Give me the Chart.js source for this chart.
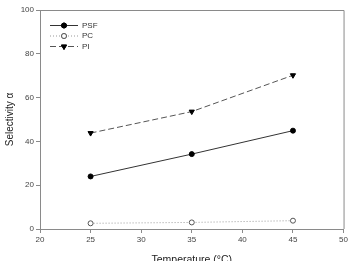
<!DOCTYPE html>
<html>
<head>
<meta charset="utf-8">
<script src="https://cdn.jsdelivr.net/npm/chart.js@4.4.0/dist/chart.umd.min.js"></script>
<style>
    html, body { margin: 0; padding: 0; background: #fff; }
    #wrap { width: 350px; height: 261px; }
</style>
</head>
<body>
<div id="wrap"><canvas id="chart"></canvas></div>
<script>
// temperatures (°C)
const temps = [25, 35, 45];
const psf = [24, 34.2, 44.9];
const pc = [2.6, 3.0, 3.8];
const pi = [43.8, 53.6, 70.2];
const xTicks = [20, 25, 30, 35, 40, 45, 50];
const yTicks = [0, 20, 40, 60, 80, 100];

function pts(vals) {
    let out = [];
    for (let i = 0; i < temps.length; i++) {
        out.push({ x: temps[i], y: vals[i] });
    }
    return out;
}

// box around the plot + little legend in the top left corner
const framePlugin = {
    id: 'frame',
    afterDraw(chart) {
        const ctx = chart.ctx;
        const a = chart.chartArea;
        ctx.save();
        ctx.strokeStyle = '#8a8a8a';
        ctx.lineWidth = 1;
        ctx.beginPath();
        ctx.moveTo(a.left, a.top + 0.5);
        ctx.lineTo(a.right + 0.5, a.top + 0.5);
        ctx.lineTo(a.right + 0.5, a.bottom);
        ctx.stroke();

        ctx.font = '8px "Liberation Sans", Arial, sans-serif';
        ctx.textBaseline = 'middle';
        chart.data.datasets.forEach(function (ds, i) {
            let y = a.top + 15 + i * 10.5;
            let x0 = a.left + 10, x1 = a.left + 38;
            ctx.strokeStyle = ds.borderColor;
            ctx.lineWidth = ds.borderWidth;
            ctx.setLineDash(ds.borderDash || []);
            ctx.beginPath();
            ctx.moveTo(x0, y + 0.5);
            ctx.lineTo(x1, y + 0.5);
            ctx.stroke();
            ctx.setLineDash([]);
            Chart.helpers.drawPoint(ctx, {
                pointStyle: ds.pointStyle,
                rotation: ds.pointRotation || 0,
                radius: ds.pointRadius,
                borderWidth: 1
            }, (x0 + x1) / 2, y + 0.5);
            ctx.fillStyle = ds.pointBackgroundColor;
            ctx.strokeStyle = ds.pointBorderColor;
            ctx.fill();
            ctx.stroke();
            ctx.fillStyle = '#333';
            ctx.fillText(ds.label, x1 + 4, y + 0.5);
        });
        ctx.restore();
    }
};

const config = {
    type: 'line',
    data: {
        datasets: [{
            label: 'PSF',
            data: pts(psf),
            borderColor: '#333',
            borderWidth: 1,
            pointStyle: 'circle',
            pointRadius: 2.5,
            pointBackgroundColor: '#000',
            pointBorderColor: '#000',
            pointBorderWidth: 1
        }, {
            label: 'PC',
            data: pts(pc),
            borderColor: '#999',
            borderWidth: 1,
            borderDash: [1, 2],
            pointStyle: 'circle',
            pointRadius: 2.5,
            pointBackgroundColor: '#fff',
            pointBorderColor: '#555',
            pointBorderWidth: 1
        }, {
            label: 'PI',
            data: pts(pi),
            borderColor: '#555',
            borderWidth: 1,
            borderDash: [6, 3],
            pointStyle: 'triangle',
            pointRotation: 180,
            pointRadius: 3,
            pointBackgroundColor: '#000',
            pointBorderColor: '#000',
            pointBorderWidth: 1
        }]
    },
    options: {
        responsive: true,
        maintainAspectRatio: false,
        animation: false,
        layout: { padding: { top: 10, right: 6, left: 0, bottom: 0 } },
        plugins: { legend: { display: false }, tooltip: { enabled: false } },
        scales: {
            x: {
                type: 'linear',
                min: 20,
                max: 50,
                afterBuildTicks: function (axis) {
                    axis.ticks = xTicks.map(v => ({ value: v }));
                },
                afterFit: function (axis) { axis.height = 32; },
                border: { color: '#8a8a8a', width: 1 },
                grid: { drawOnChartArea: false, tickLength: 4, color: '#8a8a8a' },
                ticks: {
                    color: '#444',
                    padding: 2,
                    maxRotation: 0,
                    font: { family: '"Liberation Sans", Arial, sans-serif', size: 8 }
                },
                title: {
                    display: true,
                    text: 'Temperature (°C)',
                    color: '#222',
                    padding: { top: 0, bottom: -5 },
                    font: { family: '"Liberation Sans", Arial, sans-serif', size: 10.5 }
                }
            },
            y: {
                min: 0,
                max: 100,
                afterBuildTicks: function (axis) {
                    axis.ticks = yTicks.map(v => ({ value: v }));
                },
                afterFit: function (axis) { axis.width = 40; },
                border: { color: '#8a8a8a', width: 1 },
                grid: { drawOnChartArea: false, tickLength: 4, color: '#8a8a8a' },
                ticks: {
                    color: '#444',
                    padding: 2,
                    font: { family: '"Liberation Sans", Arial, sans-serif', size: 8 }
                },
                title: {
                    display: true,
                    text: 'Selectivity α',
                    color: '#222',
                    padding: { top: 4, bottom: 2 },
                    font: { family: '"Liberation Sans", Arial, sans-serif', size: 10 }
                }
            }
        }
    },
    plugins: [framePlugin]
};

new Chart(document.getElementById('chart'), config);
</script>
</body>
</html>
